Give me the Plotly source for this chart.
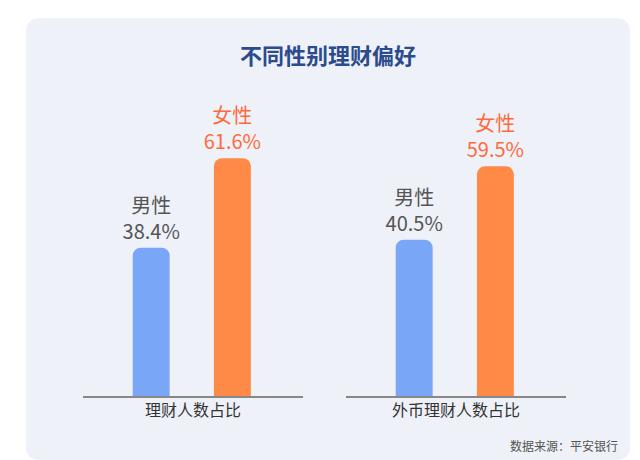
import plotly.graph_objects as go
from plotly.subplots import make_subplots
import re

groups = ["理财人数占比", "外币理财人数占比"]
genders = ["男性", "女性"]
values = [[38.4, 61.6], [40.5, 59.5]]
colors = ["#7aa6f7", "#ff8a47"]
text_colors = ["#555555", "#ff6a3d"]

fig = make_subplots(rows=1, cols=2)
for gi, g in enumerate(groups):
    for k, gen in enumerate(genders):
        fig.add_trace(go.Bar(
            x=[gen], y=[values[gi][k]], width=0.455,
            marker=dict(color=colors[k], line=dict(width=0)),
            text=[f"{gen}<br>{values[gi][k]}%"], textposition="outside", constraintext="none",
            textfont=dict(size=20, color=text_colors[k]), cliponaxis=False,
            showlegend=False), row=1, col=gi + 1)
    ax = "xaxis" if gi == 0 else "xaxis2"
    fig.layout[ax].update(title=dict(text=g, font=dict(size=16, color="#333"), standoff=8))

dom = [[75/640, 295/640], [338/640, 558/640]]
for i, a in enumerate(["xaxis", "xaxis2"]):
    fig.layout[a].update(domain=dom[i], range=[-0.84, 1.87], showline=True, linecolor="#888",
                         linewidth=1.5, showticklabels=False, ticks="", showgrid=False, fixedrange=True)
for a in ["yaxis", "yaxis2"]:
    fig.layout[a].update(domain=[1-388/460, 1-100/460], range=[0, 74.6], visible=False)

r = 14; x0, y0, x1, y1 = 18, 10, 622, 452
path = (f"M {x0+r} {y0} L {x1-r} {y0} Q {x1} {y0} {x1} {y0+r} L {x1} {y1-r} Q {x1} {y1} {x1-r} {y1} "
        f"L {x0+r} {y1} Q {x0} {y1} {x0} {y1-r} L {x0} {y0+r} Q {x0} {y0} {x0+r} {y0} Z")
def px(x, y): return f"{x/640:.4f} {1-y/460:.4f}"
nums = re.findall(r"[A-Z]|[-\d.]+ [-\d.]+", path)
pp = " ".join(n if len(n) == 1 else px(*map(float, n.split())) for n in nums)
fig.add_shape(type="path", path=pp, xref="paper", yref="paper", fillcolor="#eef1f8",
              line=dict(width=0), layer="below")

fig.update_layout(
    width=640, height=460, margin=dict(l=0, r=0, t=0, b=0),
    paper_bgcolor="white", plot_bgcolor="rgba(0,0,0,0)", barcornerradius=8,
    font=dict(family="Noto Sans CJK SC"),
    title=dict(text="<b>不同性别理财偏好</b>", x=0.5, xanchor="center", y=1-48/460, yanchor="middle",
               font=dict(size=22, color="#2b4b8c")),
    annotations=[dict(text="数据来源：平安银行", x=612/640, y=1-437/460, xref="paper", yref="paper",
                      xanchor="right", yanchor="middle", showarrow=False,
                      font=dict(size=12, color="#555"))])
fig.write_html("out.html")
